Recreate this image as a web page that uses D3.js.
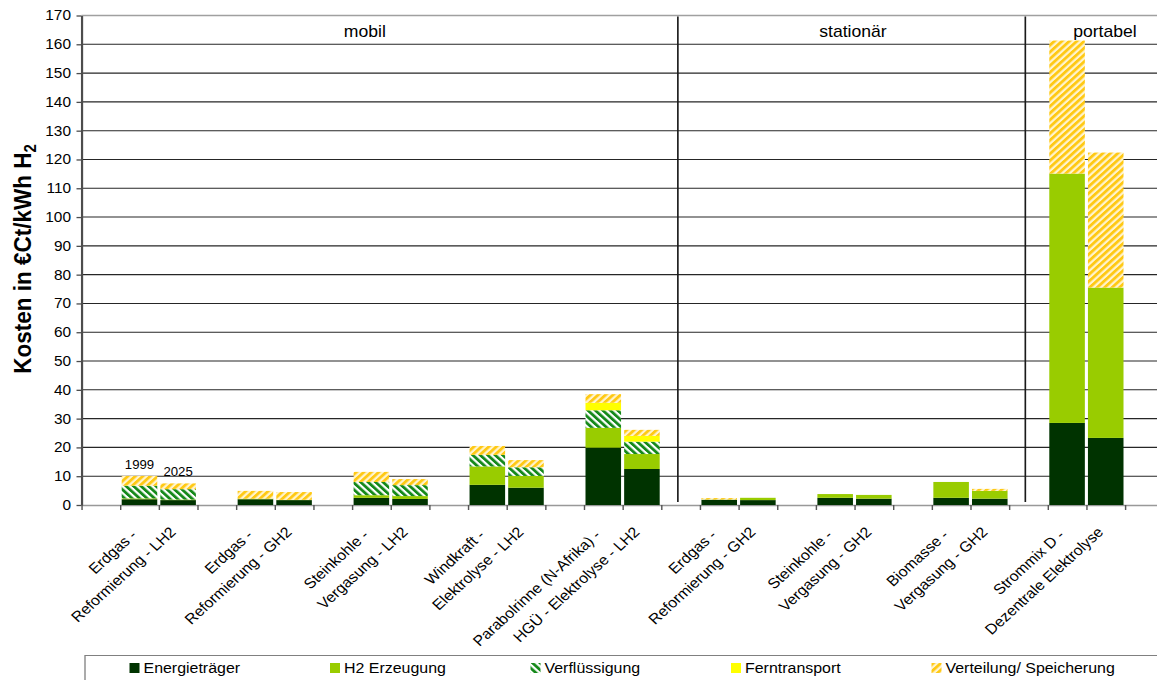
<!DOCTYPE html>
<html>
<head>
<meta charset="utf-8">
<script src="https://cdn.jsdelivr.net/npm/d3@7"></script>
<style>
  html, body { margin: 0; padding: 0; background: #fff; }
  svg { display: block; font-family: "Liberation Sans", Arial, sans-serif; }
</style>
</head>
<body>
<div id="chart"></div>
<script>
// Kategorien (zweizeilige Beschriftung), je ein Balken für 1999 und 2025
const labelTop = ["Erdgas -", "Erdgas -", "Steinkohle -", "Windkraft -", "Parabolrinne (N-Afrika) -",
                  "Erdgas -", "Steinkohle -", "Biomasse -", "Strommix D -"];
const labelBottom = ["Reformierung - LH2", "Reformierung - GH2", "Vergasung - LH2", "Elektrolyse - LH2",
                     "HGÜ - Elektrolyse - LH2", "Reformierung - GH2", "Vergasung - GH2", "Vergasung - GH2",
                     "Dezentrale Elektrolyse"];
const years = ["1999", "2025"];

// Werte je Balken (Reihenfolge: Kategorie 1 1999, Kategorie 1 2025, ...)
const energietraeger = [2.0, 1.7, 2.0, 1.7, 2.5, 2.1, 7.0, 6.0, 19.9, 12.5, 1.8, 1.7, 2.5, 2.2, 2.5, 2.2, 28.5, 23.3];
const h2Erzeugung    = [0.3, 0.2, 0.2, 0.1, 0.9, 1.0, 6.4, 4.1, 6.9, 5.2, 0.1, 0.8, 1.3, 1.3, 5.5, 2.7, 86.6, 52.2];
const verfluessigung = [4.4, 3.6, 0, 0, 4.6, 3.8, 4.0, 3.0, 6.1, 4.3, 0, 0, 0, 0, 0, 0, 0, 0];
const ferntransport  = [0, 0, 0, 0, 0, 0, 0, 0, 2.6, 2.0, 0, 0, 0, 0, 0, 0, 0, 0];
const verteilung     = [3.4, 2.0, 2.7, 2.7, 3.5, 2.1, 3.1, 2.5, 3.0, 2.1, 0.5, 0, 0, 0, 0, 0.7, 46.2, 46.9];

const seriesNames = ["Energieträger", "H2 Erzeugung", "Verflüssigung", "Ferntransport", "Verteilung/ Speicherung"];
const seriesValues = [energietraeger, h2Erzeugung, verfluessigung, ferntransport, verteilung];

// Bereiche (mobil / stationär / portabel)
const sectionNames = ["mobil", "stationär", "portabel"];
const sectionLabelSlot = [7.33, 19.96, 26.48];
const sectionDividerSlot = [15.43, 24.42];

const yTicks = d3.range(0, 171, 10);

// Das Original ist horizontal leicht gestreckt
const SX = 1.1;
const W = 1157, H = 680, W0 = W / SX;
const nSlots = 28;

const svg = d3.select("#chart").append("svg")
    .attr("width", W)
    .attr("height", H)
    .attr("viewBox", `0 0 ${W0} ${H}`)
    .attr("preserveAspectRatio", "none");

// Muster für schraffierte Reihen
const defs = svg.append("defs");
function stripes(id, angle, color, light) {
    const p = defs.append("pattern")
        .attr("id", id)
        .attr("patternUnits", "userSpaceOnUse")
        .attr("width", 4.8).attr("height", 4.8)
        .attr("patternTransform", `rotate(${angle})`);
    p.append("rect").attr("width", 4.8).attr("height", 4.8).attr("fill", light);
    p.append("rect").attr("width", 2.7).attr("height", 4.8).attr("fill", color);
}
stripes("pVerfl", -45, "#15891a", "#ffffff");
stripes("pVert", 45, "#ffc914", "#fff4cf");

const fills = ["#003300", "#99cc00", "url(#pVerfl)", "#ffff00", "url(#pVert)"];

// Skalen
const x0 = 81.5 / SX, step = 38.65 / SX;
const xs = d3.scaleLinear().domain([0, nSlots]).range([x0, x0 + nSlots * step]);
const band = d3.scaleBand().domain(d3.range(nSlots)).range(xs.range())
    .paddingInner(0.08).paddingOuter(0.04);
const y = d3.scaleLinear().domain([0, 170]).range([505, 15.5]);

// Tabelle für den Stack
const rows = energietraeger.map((_, i) => {
    const r = { slot: Math.floor(i / 2) * 3 + 1 + (i % 2), year: years[i % 2], pair: Math.floor(i / 2) };
    seriesNames.forEach((s, j) => r[s] = seriesValues[j][i]);
    return r;
});
const stacked = d3.stack().keys(seriesNames)(rows);

// Gitternetz
svg.append("g")
    .selectAll("line")
    .data(yTicks.filter(v => v > 0))
    .join("line")
    .attr("x1", x0).attr("x2", W0)
    .attr("y1", d => y(d)).attr("y2", d => y(d))
    .attr("stroke", d => d === 170 ? "#a0a0a0" : "#262626")
    .attr("stroke-width", d => d === 170 ? 1.6 : 1.1);

// x-Achse (nur Teilstriche)
const xAxis = svg.append("g")
    .attr("transform", `translate(0,${y(0)})`)
    .call(d3.axisBottom(xs).tickValues(d3.range(0, nSlots + 1)).tickFormat("").tickSize(5).tickSizeOuter(0));
xAxis.select(".domain").attr("stroke", "#999").attr("stroke-width", 1.4);
xAxis.selectAll(".tick line").attr("stroke", "#555").attr("stroke-width", 1.3);

// Trennlinien der Bereiche
svg.append("g")
    .selectAll("line")
    .data(sectionDividerSlot)
    .join("line")
    .attr("x1", d => xs(d)).attr("x2", d => xs(d))
    .attr("y1", y(170) + 1).attr("y2", y(0) - 3)
    .attr("stroke", "#1a1a1a")
    .attr("stroke-width", 1.5);

// Balken
svg.append("g")
    .selectAll("g")
    .data(stacked)
    .join("g")
    .attr("fill", (d, i) => fills[i])
    .selectAll("rect")
    .data(d => d.filter(p => p[1] - p[0] > 0))
    .join("rect")
    .attr("x", d => band(d.data.slot))
    .attr("width", band.bandwidth())
    .attr("y", d => y(d[1]))
    .attr("height", d => y(d[0]) - y(d[1]));

// y-Achse
const yAxis = svg.append("g")
    .attr("transform", `translate(${x0},0)`)
    .call(d3.axisLeft(y).tickValues(yTicks).tickSize(5 / SX).tickPadding(5).tickSizeOuter(0));
yAxis.select(".domain").attr("stroke", "#4d4d4d").attr("stroke-width", 2);
yAxis.selectAll(".tick line").attr("stroke", "#4d4d4d").attr("stroke-width", 1.3);
yAxis.selectAll(".tick text")
    .attr("font-size", 14)
    .attr("font-family", "Liberation Sans, Arial, sans-serif")
    .attr("fill", "#000");

// Achsentitel
const yTitle = svg.append("text")
    .attr("transform", `translate(${31.5 / SX},259) rotate(-90)`)
    .attr("text-anchor", "middle")
    .attr("font-size", 22.5)
    .attr("font-weight", "bold")
    .attr("fill", "#000");
yTitle.append("tspan").text("Kosten in €Ct/kWh H");
yTitle.append("tspan").attr("font-size", 15).attr("dy", 4).text("2");

// Bereichsbeschriftung
svg.append("g")
    .selectAll("text")
    .data(sectionNames)
    .join("text")
    .attr("x", (d, i) => xs(sectionLabelSlot[i]))
    .attr("y", 37)
    .attr("text-anchor", "middle")
    .attr("font-size", 16)
    .text(d => d);

// Jahreszahlen über der ersten Gruppe
svg.append("g")
    .selectAll("text")
    .data(rows.filter(r => r.pair === 0))
    .join("text")
    .attr("x", d => band(d.slot) + band.bandwidth() / 2)
    .attr("y", d => y(d3.sum(seriesNames, s => d[s])) - 7)
    .attr("text-anchor", "middle")
    .attr("font-size", 12)
    .text(d => d.year);

// Kategorienbeschriftung, 45° gedreht
const catG = svg.append("g")
    .selectAll("g")
    .data(labelTop.map((t, i) => ({ top: t, bottom: labelBottom[i], tick: xs(i * 3 + 2) })))
    .join("g")
    .attr("font-size", 14.5);
catG.append("text")
    .attr("text-anchor", "end")
    .attr("transform", d => `translate(${d.tick - 21 / SX},536) rotate(-45)`)
    .text(d => d.top);
catG.append("text")
    .attr("text-anchor", "end")
    .attr("transform", d => `translate(${d.tick + 18 / SX},533) rotate(-45)`)
    .text(d => d.bottom);

// Legende
const legend = svg.append("g");
legend.append("path")
    .attr("d", `M${85 / SX},${H + 2}V655.5H${W0 + 2}`)
    .attr("fill", "none")
    .attr("stroke", "#808080")
    .attr("stroke-width", 1.2);
const legItem = legend.selectAll("g")
    .data(seriesNames)
    .join("g")
    .attr("transform", (d, i) => `translate(${(129.5 + i * 200.5) / SX},663)`);
legItem.append("rect")
    .attr("width", 10 / SX).attr("height", 10)
    .attr("fill", (d, i) => fills[i]);
legItem.append("text")
    .attr("x", 14 / SX)
    .attr("y", 10)
    .attr("font-size", 14.5)
    .text(d => d);
</script>
</body>
</html>
